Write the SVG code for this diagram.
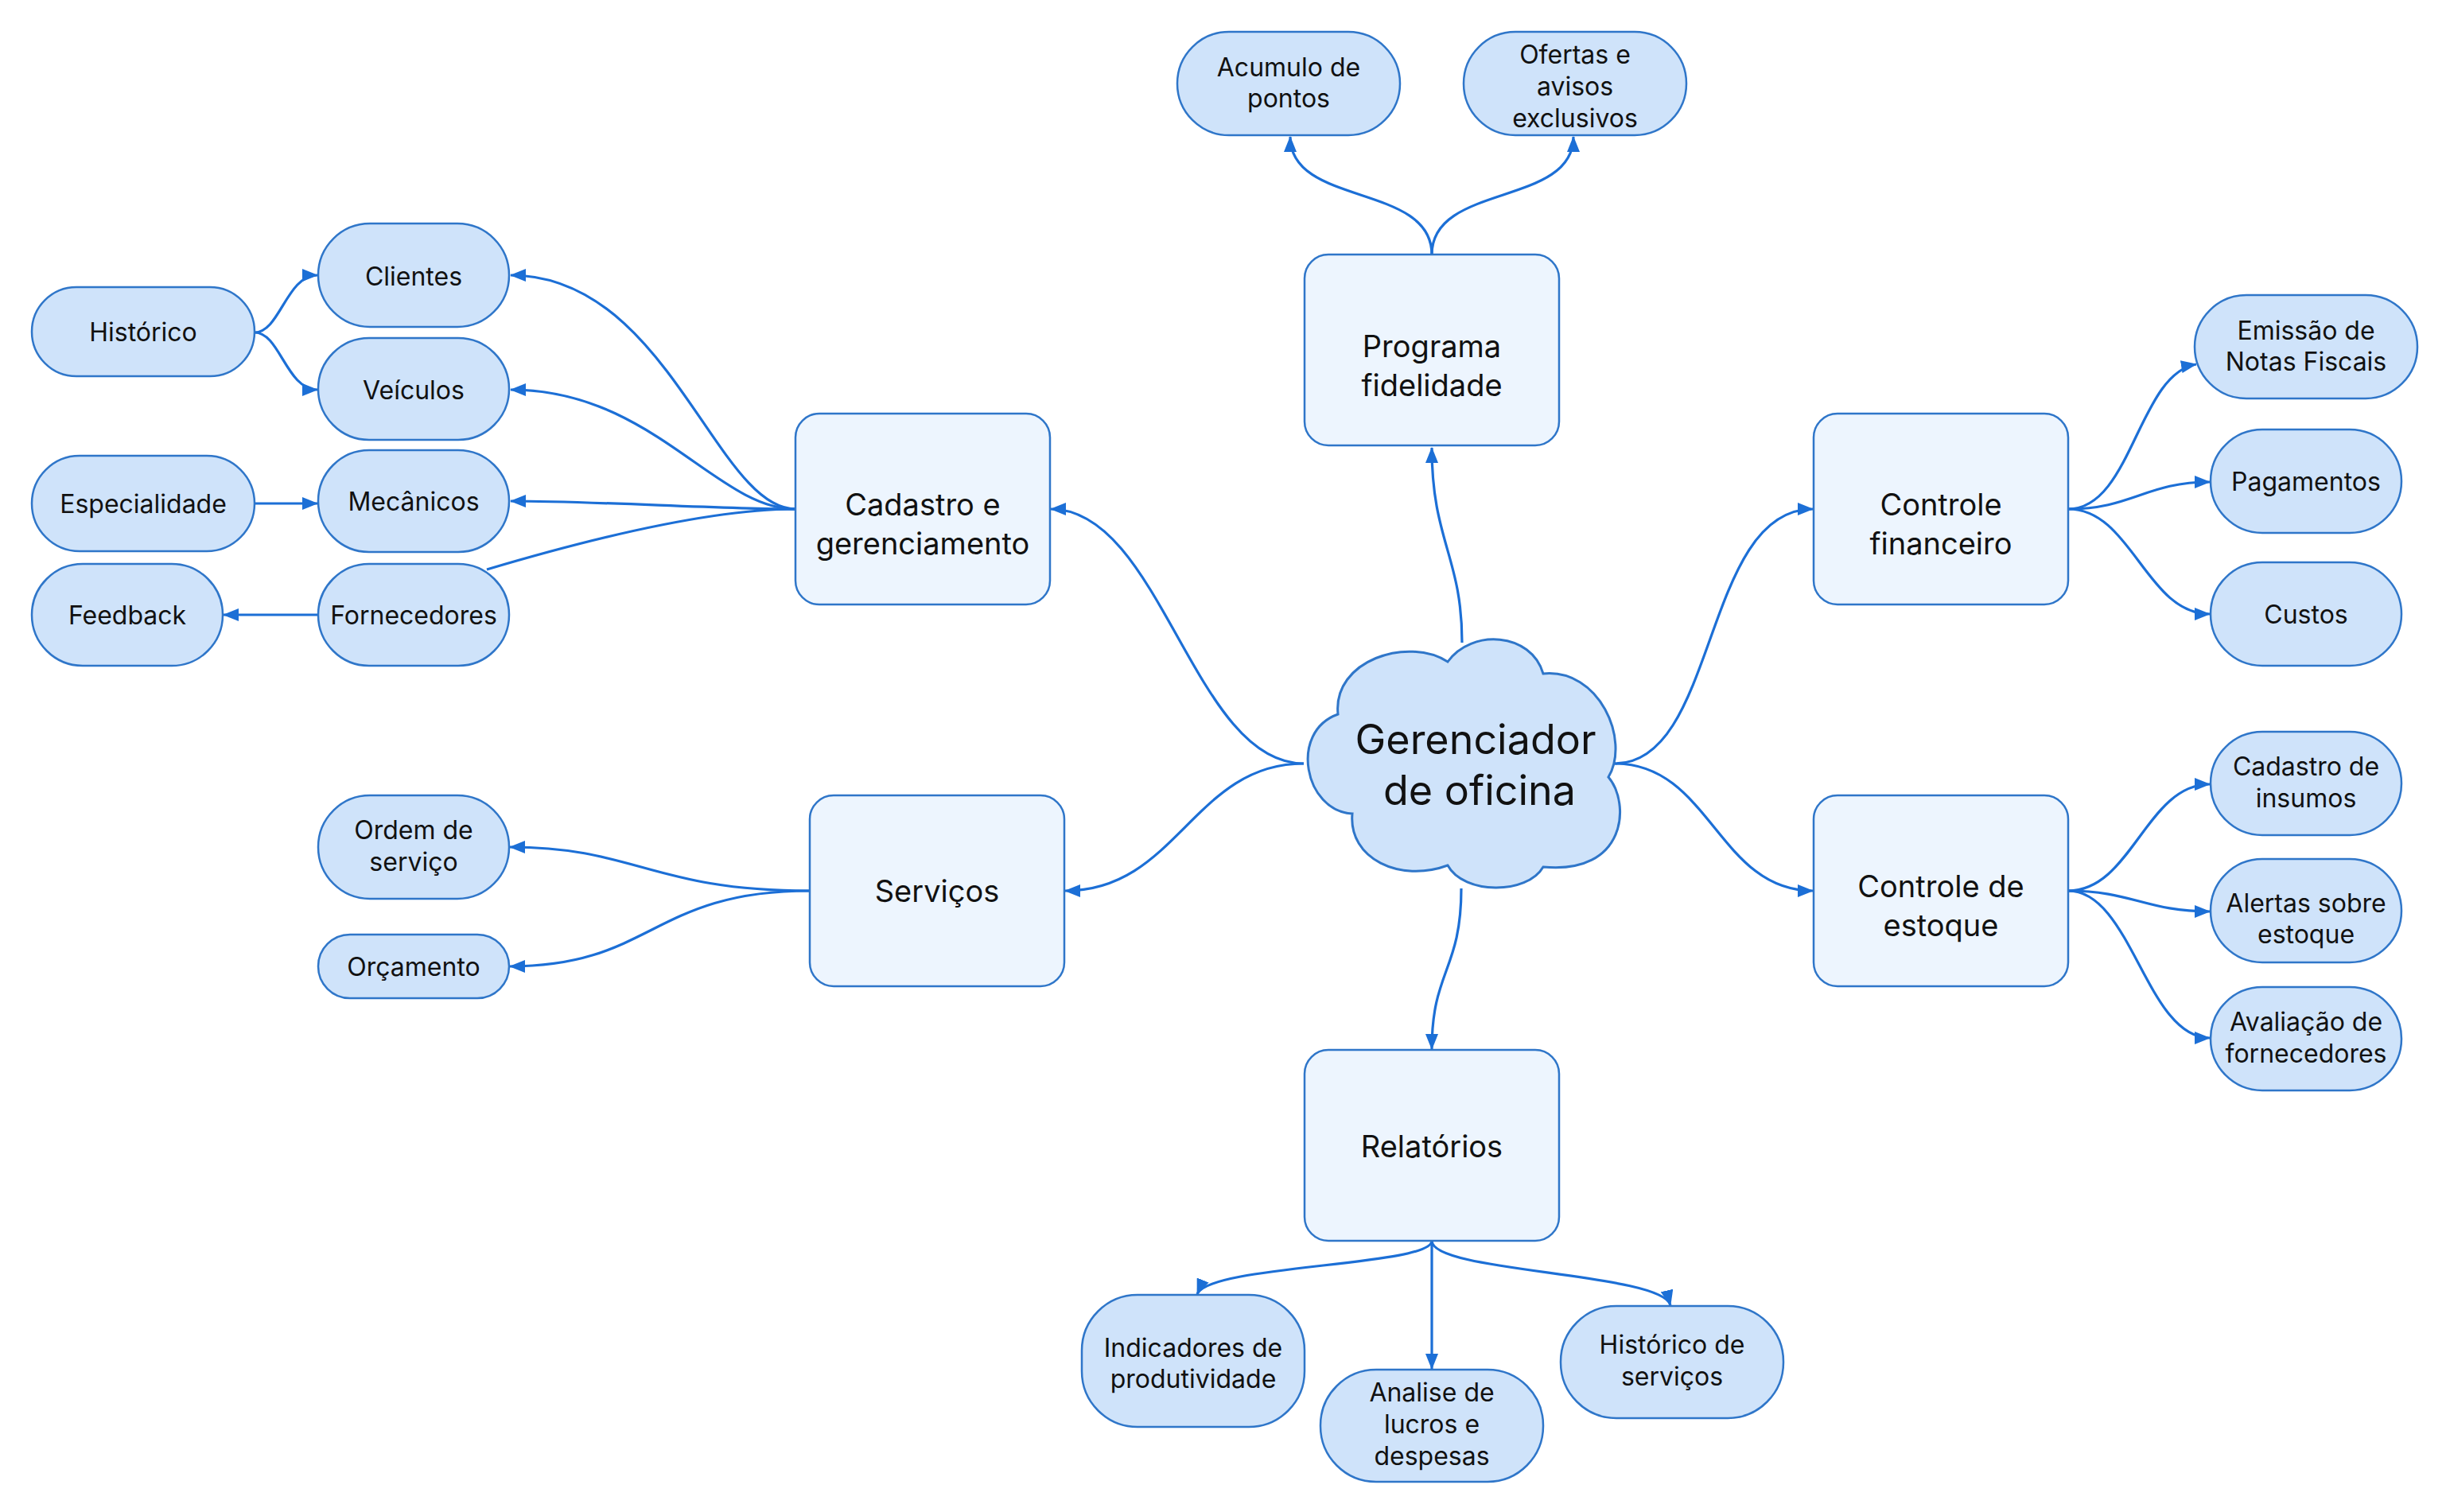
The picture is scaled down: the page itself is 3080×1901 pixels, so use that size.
<svg xmlns="http://www.w3.org/2000/svg" width="3080" height="1901" viewBox="0 0 3080 1901">
<defs>
<style>
.box{fill:#EDF5FE;stroke:#2F76C9;stroke-width:2.5}
.pill{fill:#CFE3FA;stroke:#2F76C9;stroke-width:2.5}
.cloud{fill:#CFE3FA;stroke:#2F76C9;stroke-width:3}
.t{font-family:Inter,"Noto Sans","Liberation Sans",sans-serif;fill:#111;text-anchor:middle}
.tb{font-size:38px}
.tp{font-size:32px}
.tc{font-size:52px}
.c{fill:none;stroke:#1C6FD6;stroke-width:3.2}
.a{marker-end:url(#ah)}
</style>
<marker id="ah" viewBox="0 0 20 16" refX="19" refY="8" markerWidth="20" markerHeight="16" markerUnits="userSpaceOnUse" orient="auto">
<path d="M0 0 L20 8 L0 16 Z" fill="#1C6FD6"/>
</marker>
</defs>
<rect width="3080" height="1901" fill="#fff"/>
<g id="connectors">
<path class="c a" d="M1838 808 C1838 700 1800 680 1800 563"/>
<path class="c a" d="M1837 1117 C1837 1220 1800 1220 1800 1319"/>
<path class="c a" d="M1639 960 C1500 960 1460 640 1321 640"/>
<path class="c a" d="M1639 960 C1500 960 1480 1120 1339 1120"/>
<path class="c a" d="M2030 960 C2160 960 2140 640 2279 640"/>
<path class="c a" d="M2030 960 C2150 960 2160 1120 2279 1120"/>
<path class="c a" d="M1800 320 C1800 230 1622 260 1622 172"/>
<path class="c a" d="M1800 320 C1800 230 1978 260 1978 172"/>
<path class="c a" d="M1000 640 C900 640 840 346 642 346"/>
<path class="c a" d="M1000 640 C900 640 820 490 642 490"/>
<path class="c a" d="M1000 640 C900 640 750 630 642 630"/>
<path class="c" d="M1000 640 C900 640 760 672 612 716"/>
<path class="c a" d="M320 418 C352 418 360 346 399 346"/>
<path class="c a" d="M320 418 C352 418 360 490 399 490"/>
<path class="c a" d="M320 633 L399 633"/>
<path class="c a" d="M400 773 L281 773"/>
<path class="c a" d="M1018 1120 C820 1120 800 1065 641 1065"/>
<path class="c a" d="M1018 1120 C820 1120 820 1215 641 1215"/>
<path class="c a" d="M2600 640 C2680 640 2688 470 2761 458"/>
<path class="c a" d="M2600 640 C2680 640 2698 606 2778 606"/>
<path class="c a" d="M2600 640 C2680 640 2698 772 2778 772"/>
<path class="c a" d="M2600 1120 C2680 1120 2698 986 2778 986"/>
<path class="c a" d="M2600 1120 C2680 1120 2698 1146 2778 1146"/>
<path class="c a" d="M2600 1120 C2680 1120 2698 1305 2778 1305"/>
<path class="c a" d="M1800 1560 C1800 1592 1520 1590 1505 1627"/>
<path class="c a" d="M1800 1560 L1800 1721"/>
<path class="c a" d="M1800 1560 C1800 1600 2090 1600 2100 1641"/>
</g>
<g id="n-center">
<path class="cloud" d="M1682 898 C1675 830 1770 800 1820 832 C1850 790 1925 795 1940 847 C2010 840 2050 930 2022 977 C2050 1010 2045 1100 1940 1090 C1920 1125 1840 1125 1820 1088 C1760 1110 1695 1080 1700 1023 C1640 1020 1620 920 1682 898 Z"/>
<text class="t tc" x="1855" y="948">Gerenciador</text>
<text class="t tc" x="1860" y="1012">de oficina</text>
</g>
<g id="n-programa"><rect class="box" x="1640" y="320" width="320" height="240" rx="30"/><text class="t tb" x="1800" y="449">Programa</text><text class="t tb" x="1800" y="498">fidelidade</text></g>
<g id="n-cadastro"><rect class="box" x="1000" y="520" width="320" height="240" rx="30"/><text class="t tb" x="1160" y="648">Cadastro e</text><text class="t tb" x="1160" y="697">gerenciamento</text></g>
<g id="n-servicos"><rect class="box" x="1018" y="1000" width="320" height="240" rx="30"/><text class="t tb" x="1178" y="1134">Serviços</text></g>
<g id="n-financeiro"><rect class="box" x="2280" y="520" width="320" height="240" rx="30"/><text class="t tb" x="2440" y="648">Controle</text><text class="t tb" x="2440" y="697">financeiro</text></g>
<g id="n-estoque"><rect class="box" x="2280" y="1000" width="320" height="240" rx="30"/><text class="t tb" x="2440" y="1128">Controle de</text><text class="t tb" x="2440" y="1177">estoque</text></g>
<g id="n-relatorios"><rect class="box" x="1640" y="1320" width="320" height="240" rx="30"/><text class="t tb" x="1800" y="1455">Relatórios</text></g>
<g id="n-acumulo"><rect class="pill" x="1480" y="40" width="280" height="130" rx="65"/><text class="t tp" x="1620" y="96">Acumulo de</text><text class="t tp" x="1620" y="135">pontos</text></g>
<g id="n-ofertas"><rect class="pill" x="1840" y="40" width="280" height="130" rx="65"/><text class="t tp" x="1980" y="80">Ofertas e</text><text class="t tp" x="1980" y="120">avisos</text><text class="t tp" x="1980" y="160">exclusivos</text></g>
<g id="n-clientes"><rect class="pill" x="400" y="281" width="240" height="130" rx="65"/><text class="t tp" x="520" y="359">Clientes</text></g>
<g id="n-veiculos"><rect class="pill" x="400" y="425" width="240" height="128" rx="64"/><text class="t tp" x="520" y="502">Veículos</text></g>
<g id="n-mecanicos"><rect class="pill" x="400" y="566" width="240" height="128" rx="64"/><text class="t tp" x="520" y="642">Mecânicos</text></g>
<g id="n-fornecedores"><rect class="pill" x="400" y="709" width="240" height="128" rx="64"/><text class="t tp" x="520" y="785">Fornecedores</text></g>
<g id="n-historico"><rect class="pill" x="40" y="361" width="280" height="112" rx="56"/><text class="t tp" x="180" y="429">Histórico</text></g>
<g id="n-especialidade"><rect class="pill" x="40" y="573" width="280" height="120" rx="60"/><text class="t tp" x="180" y="645">Especialidade</text></g>
<g id="n-feedback"><rect class="pill" x="40" y="709" width="240" height="128" rx="64"/><text class="t tp" x="160" y="785">Feedback</text></g>
<g id="n-ordem"><rect class="pill" x="400" y="1000" width="240" height="130" rx="65"/><text class="t tp" x="520" y="1055">Ordem de</text><text class="t tp" x="520" y="1095">serviço</text></g>
<g id="n-orcamento"><rect class="pill" x="400" y="1175" width="240" height="80" rx="40"/><text class="t tp" x="520" y="1227">Orçamento</text></g>
<g id="n-emissao"><rect class="pill" x="2759" y="371" width="280" height="130" rx="65"/><text class="t tp" x="2899" y="427">Emissão de</text><text class="t tp" x="2899" y="466">Notas Fiscais</text></g>
<g id="n-pagamentos"><rect class="pill" x="2779" y="540" width="240" height="130" rx="65"/><text class="t tp" x="2899" y="617">Pagamentos</text></g>
<g id="n-custos"><rect class="pill" x="2779" y="707" width="240" height="130" rx="65"/><text class="t tp" x="2899" y="784">Custos</text></g>
<g id="n-insumos"><rect class="pill" x="2779" y="920" width="240" height="130" rx="65"/><text class="t tp" x="2899" y="975">Cadastro de</text><text class="t tp" x="2899" y="1015">insumos</text></g>
<g id="n-alertas"><rect class="pill" x="2779" y="1080" width="240" height="130" rx="65"/><text class="t tp" x="2899" y="1147">Alertas sobre</text><text class="t tp" x="2899" y="1186">estoque</text></g>
<g id="n-avaliacao"><rect class="pill" x="2779" y="1241" width="240" height="130" rx="65"/><text class="t tp" x="2899" y="1296">Avaliação de</text><text class="t tp" x="2899" y="1336">fornecedores</text></g>
<g id="n-indicadores"><rect class="pill" x="1360" y="1628" width="280" height="166" rx="70"/><text class="t tp" x="1500" y="1706">Indicadores de</text><text class="t tp" x="1500" y="1745">produtividade</text></g>
<g id="n-analise"><rect class="pill" x="1660" y="1722" width="280" height="141" rx="70"/><text class="t tp" x="1800" y="1762">Analise de</text><text class="t tp" x="1800" y="1802">lucros e</text><text class="t tp" x="1800" y="1842">despesas</text></g>
<g id="n-histservicos"><rect class="pill" x="1962" y="1642" width="280" height="141" rx="70"/><text class="t tp" x="2102" y="1702">Histórico de</text><text class="t tp" x="2102" y="1742">serviços</text></g>
</svg>
